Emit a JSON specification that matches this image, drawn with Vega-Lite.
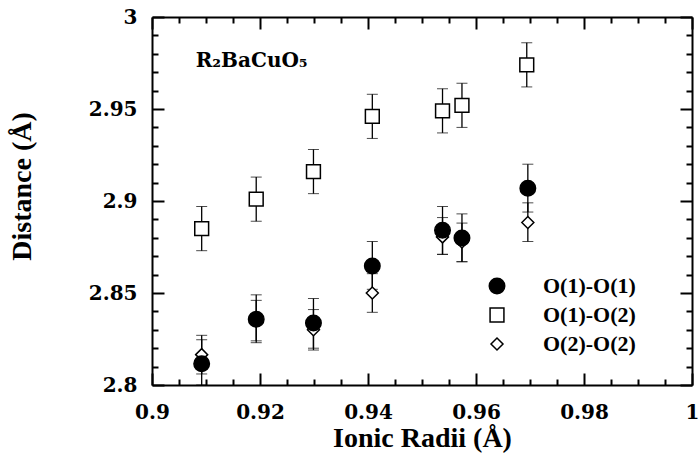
{
  "$schema": "https://vega.github.io/schema/vega-lite/v6.json",
  "width": 540,
  "height": 368,
  "autosize": {"type": "none"},
  "padding": {"left": 152, "top": 17, "right": 8, "bottom": 78},
  "background": "white",
  "config": {
    "view": {"stroke": null},
    "font": "Liberation Serif",
    "axis": {
      "domainColor": "black", "domainWidth": 2, "tickColor": "black", "tickWidth": 2,
      "grid": false, "labelFont": "DejaVu Serif", "labelFontWeight": "bold", "labelFontSize": 20,
      "labelColor": "black", "titleFont": "Liberation Serif", "titleFontWeight": "bold",
      "titleFontSize": 28, "titleColor": "black"
    }
  },
  "data": {"values": [
    {"series": "O(2)-O(2)", "x": 0.9092, "y": 2.8165, "lo": 2.806, "hi": 2.827},
    {"series": "O(2)-O(2)", "x": 0.9193, "y": 2.835, "lo": 2.824, "hi": 2.846},
    {"series": "O(2)-O(2)", "x": 0.9299, "y": 2.830, "lo": 2.820, "hi": 2.841},
    {"series": "O(2)-O(2)", "x": 0.9408, "y": 2.850, "lo": 2.8395, "hi": 2.8605},
    {"series": "O(2)-O(2)", "x": 0.9538, "y": 2.8805, "lo": 2.871, "hi": 2.891},
    {"series": "O(2)-O(2)", "x": 0.9574, "y": 2.8777, "lo": 2.867, "hi": 2.888},
    {"series": "O(2)-O(2)", "x": 0.9696, "y": 2.8883, "lo": 2.878, "hi": 2.899},
    {"series": "O(1)-O(2)", "x": 0.9092, "y": 2.885, "lo": 2.873, "hi": 2.897},
    {"series": "O(1)-O(2)", "x": 0.9193, "y": 2.901, "lo": 2.889, "hi": 2.913},
    {"series": "O(1)-O(2)", "x": 0.9299, "y": 2.916, "lo": 2.904, "hi": 2.928},
    {"series": "O(1)-O(2)", "x": 0.9408, "y": 2.946, "lo": 2.934, "hi": 2.958},
    {"series": "O(1)-O(2)", "x": 0.9538, "y": 2.949, "lo": 2.937, "hi": 2.961},
    {"series": "O(1)-O(2)", "x": 0.9574, "y": 2.952, "lo": 2.940, "hi": 2.964},
    {"series": "O(1)-O(2)", "x": 0.9694, "y": 2.974, "lo": 2.962, "hi": 2.986},
    {"series": "O(1)-O(1)", "x": 0.9092, "y": 2.8116, "lo": 2.800, "hi": 2.8246},
    {"series": "O(1)-O(1)", "x": 0.9193, "y": 2.8357, "lo": 2.823, "hi": 2.849},
    {"series": "O(1)-O(1)", "x": 0.9299, "y": 2.8337, "lo": 2.819, "hi": 2.847},
    {"series": "O(1)-O(1)", "x": 0.9408, "y": 2.8647, "lo": 2.852, "hi": 2.878},
    {"series": "O(1)-O(1)", "x": 0.9538, "y": 2.8841, "lo": 2.871, "hi": 2.897},
    {"series": "O(1)-O(1)", "x": 0.9574, "y": 2.8799, "lo": 2.867, "hi": 2.893},
    {"series": "O(1)-O(1)", "x": 0.9696, "y": 2.9069, "lo": 2.894, "hi": 2.920}
  ]},
  "resolve": {"axis": {"x": "independent", "y": "independent"}},
  "layer": [
    {
      "mark": {"type": "errorbar", "color": "black", "ticks": {"size": 11, "strokeWidth": 1.5, "color": "black"}, "rule": {"strokeWidth": 1.3, "color": "black"}},
      "encoding": {
        "x": {"field": "x", "type": "quantitative",
          "scale": {"domain": [0.9, 1.0], "nice": false, "zero": false},
          "axis": {"orient": "bottom", "title": "Ionic Radii (Å)",
            "values": [0.9,0.905,0.91,0.915,0.92,0.925,0.93,0.935,0.94,0.945,0.95,0.955,0.96,0.965,0.97,0.975,0.98,0.985,0.99,0.995,1.0],
            "labelExpr": "round(datum.value*1000) % 20 == 0 ? format(datum.value, '~g') : ''",
            "tickSize": {"condition": {"test": "round(datum.value*1000) % 20 == 0", "value": -12}, "value": -6},
            "labelPadding": 29, "titlePadding": 2, "labelFlush": false}},
        "y": {"field": "lo", "type": "quantitative",
          "scale": {"domain": [2.8, 3.0], "nice": false, "zero": false},
          "axis": {"orient": "left", "title": "Distance (Å)",
            "values": [2.8,2.81,2.82,2.83,2.84,2.85,2.86,2.87,2.88,2.89,2.9,2.91,2.92,2.93,2.94,2.95,2.96,2.97,2.98,2.99,3.0],
            "labelExpr": "round(datum.value*100) % 5 == 0 ? format(datum.value, '~g') : ''",
            "tickSize": {"condition": {"test": "round(datum.value*100) % 5 == 0", "value": -12}, "value": -6},
            "labelPadding": 27, "titlePadding": 52, "titleY": 169, "labelFlush": false}},
        "y2": {"field": "hi"}
      }
    },
    {
      "mark": {"type": "point", "filled": true, "stroke": "black", "strokeWidth": 1.5, "opacity": 1},
      "encoding": {
        "x": {"field": "x", "type": "quantitative",
          "axis": {"orient": "top", "title": null, "labels": false,
            "values": [0.9,0.905,0.91,0.915,0.92,0.925,0.93,0.935,0.94,0.945,0.95,0.955,0.96,0.965,0.97,0.975,0.98,0.985,0.99,0.995,1.0],
            "tickSize": {"condition": {"test": "round(datum.value*1000) % 20 == 0", "value": -12}, "value": -6}}},
        "y": {"field": "y", "type": "quantitative",
          "axis": {"orient": "right", "title": null, "labels": false,
            "values": [2.8,2.81,2.82,2.83,2.84,2.85,2.86,2.87,2.88,2.89,2.9,2.91,2.92,2.93,2.94,2.95,2.96,2.97,2.98,2.99,3.0],
            "tickSize": {"condition": {"test": "round(datum.value*100) % 5 == 0", "value": -12}, "value": -6}}},
        "shape": {"field": "series", "type": "nominal", "title": null,
          "scale": {"domain": ["O(1)-O(1)", "O(1)-O(2)", "O(2)-O(2)"], "range": ["circle", "square", "diamond"]},
          "legend": {"orient": "none", "legendX": 334, "legendY": 258, "padding": 0, "rowPadding": 7,
            "labelFont": "Liberation Serif", "labelFontWeight": "bold", "labelFontSize": 22, "labelColor": "black",
            "labelOffset": 35, "symbolStrokeColor": "black", "symbolStrokeWidth": 1.5}},
        "fill": {"field": "series", "type": "nominal", "title": null,
          "scale": {"domain": ["O(1)-O(1)", "O(1)-O(2)", "O(2)-O(2)"], "range": ["black", "white", "white"]}},
        "size": {"field": "series", "type": "nominal", "title": null,
          "scale": {"domain": ["O(1)-O(1)", "O(1)-O(2)", "O(2)-O(2)"], "range": [240, 144, 130]}}
      }
    },
    {
      "data": {"values": [{"label": "R₂BaCuO₅"}]},
      "mark": {"type": "text", "align": "left", "baseline": "alphabetic", "font": "DejaVu Serif", "fontWeight": "bold", "fontSize": 20, "color": "black"},
      "encoding": {
        "x": {"datum": 0.9081, "type": "quantitative", "axis": null},
        "y": {"datum": 2.9728, "type": "quantitative", "axis": null},
        "text": {"field": "label"}
      }
    }
  ]
}
